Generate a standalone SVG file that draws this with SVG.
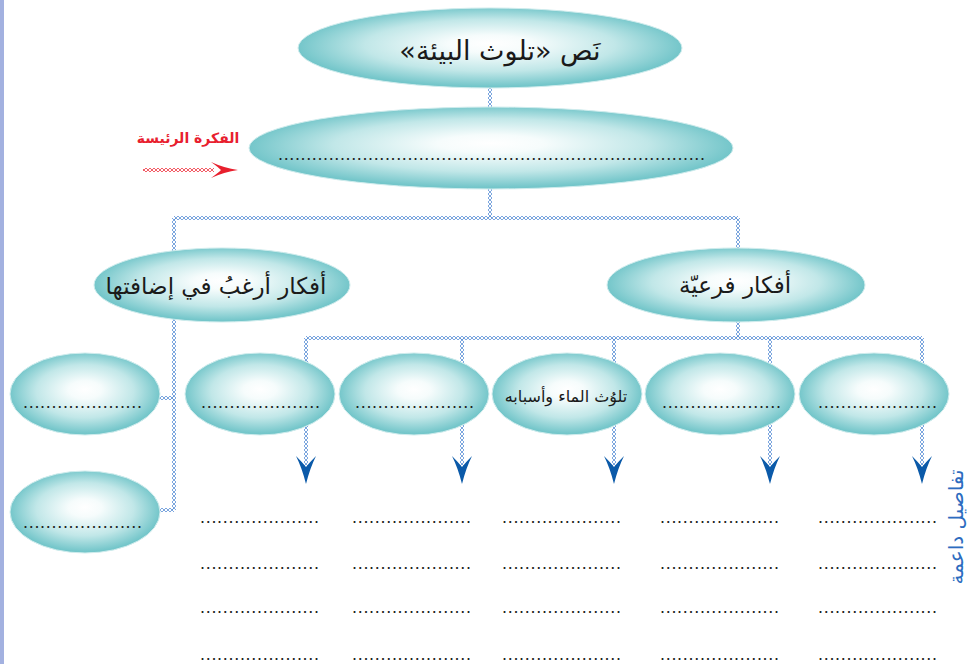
<svg xmlns="http://www.w3.org/2000/svg" width="973" height="664" viewBox="0 0 973 664">
<defs>
<radialGradient id="g" cx="50%" cy="48%" r="50%" fx="50%" fy="44%">
<stop offset="0" stop-color="#ffffff"/>
<stop offset="0.22" stop-color="#f6fcfc"/>
<stop offset="0.65" stop-color="#c1e7e8"/>
<stop offset="1" stop-color="#74c6ca"/>
</radialGradient>
<pattern id="chain" width="4" height="4" patternUnits="userSpaceOnUse">
<path d="M0 2 L2 0 L4 2 L2 4 Z" fill="none" stroke="#5b8fd6" stroke-width="0.8"/>
</pattern>
<pattern id="chainR" width="4" height="4" patternUnits="userSpaceOnUse">
<path d="M0 2 L2 0 L4 2 L2 4 Z" fill="none" stroke="#ef3340" stroke-width="0.8"/>
</pattern>
</defs>
<style>
.e{fill:url(#g);stroke:#cfeced;stroke-width:1;}
.c{fill:none;stroke:url(#chain);stroke-width:4;}
.ar{fill:#0b5aa9;}
.t{font-family:"DejaVu Sans",sans-serif;fill:#1a1a1a;text-anchor:middle;}
.d{font-family:"Liberation Sans",sans-serif;font-size:18px;fill:#222;}
</style>
<rect x="0" y="0" width="4" height="664" fill="#a3b1e0"/>

<g id="connectors">
<path class="c" d="M490 86 V110"/>
<path class="c" d="M490 186 V218"/>
<path class="c" d="M174 218 H738"/>
<path class="c" d="M174 218 V510"/>
<path class="c" d="M158 398 H174"/>
<path class="c" d="M158 510 H174"/>
<path class="c" d="M738 218 V338"/>
<path class="c" d="M306 338 H922"/>
<path class="c" d="M306 338 V466"/>
<path class="c" d="M462 338 V466"/>
<path class="c" d="M614 338 V466"/>
<path class="c" d="M770 338 V466"/>
<path class="c" d="M922 338 V466"/>
<path class="ar" d="M296 456 Q302 462 306 467 Q310 462 316 456 Q310 468 306 484 Q302 468 296 456 Z"/>
<path class="ar" d="M452 456 Q458 462 462 467 Q466 462 472 456 Q466 468 462 484 Q458 468 452 456 Z"/>
<path class="ar" d="M604 456 Q610 462 614 467 Q618 462 624 456 Q618 468 614 484 Q610 468 604 456 Z"/>
<path class="ar" d="M760 456 Q766 462 770 467 Q774 462 780 456 Q774 468 770 484 Q766 468 760 456 Z"/>
<path class="ar" d="M912 456 Q918 462 922 467 Q926 462 932 456 Q926 468 922 484 Q918 468 912 456 Z"/>
</g>

<g id="main-label">
<text class="t" x="188" y="143" font-size="14" font-weight="bold" style="fill:#e8202e" direction="rtl">الفكرة الرئيسة</text>
<path d="M143 170 H214" fill="none" stroke="url(#chainR)" stroke-width="4"/>
<path d="M211 162 Q218 167 221 170 Q218 173 211 178 Q224 172 238 170 Q224 168 211 162 Z" fill="#e8202e"/>
</g>

<g id="n-text">
<ellipse class="e" cx="490" cy="48" rx="192" ry="40"/>
<text class="t" x="500" y="60" font-size="27" direction="rtl">نَص «تلوث البيئة»</text>
</g>

<g id="n-main">
<ellipse class="e" cx="491" cy="148" rx="242" ry="41"/>
<text class="d" x="278" y="160" textLength="427" lengthAdjust="spacing">............................................................................</text>
</g>

<g id="n-add">
<ellipse class="e" cx="222" cy="285" rx="128" ry="37"/>
<text class="t" x="216" y="294" font-size="23" direction="rtl">أفكار أرغبُ في إضافتها</text>
</g>

<g id="n-sub">
<ellipse class="e" cx="736" cy="285" rx="129" ry="37"/>
<text class="t" x="735" y="293" font-size="23" direction="rtl">أفكار فرعيّة</text>
</g>

<g id="n-left1">
<ellipse class="e" cx="85" cy="394" rx="75" ry="41"/>
<text class="d" x="23" y="408" textLength="119" lengthAdjust="spacing">.....................</text>
</g>
<g id="n-left2">
<ellipse class="e" cx="85" cy="512" rx="75" ry="41"/>
<text class="d" x="23" y="528" textLength="119" lengthAdjust="spacing">.....................</text>
</g>

<g id="n-a">
<ellipse class="e" cx="260" cy="394" rx="75" ry="41"/>
<text class="d" x="201" y="408" textLength="119" lengthAdjust="spacing">.....................</text>
</g>
<g id="n-b">
<ellipse class="e" cx="414" cy="394" rx="75" ry="41"/>
<text class="d" x="355" y="408" textLength="119" lengthAdjust="spacing">.....................</text>
</g>
<g id="n-c">
<ellipse class="e" cx="567" cy="394" rx="75" ry="41"/>
<text class="t" x="566" y="402" font-size="16" direction="rtl">تلوُث الماء وأسبابه</text>
</g>
<g id="n-d">
<ellipse class="e" cx="720" cy="394" rx="75" ry="41"/>
<text class="d" x="662" y="408" textLength="119" lengthAdjust="spacing">.....................</text>
</g>
<g id="n-e">
<ellipse class="e" cx="874" cy="394" rx="75" ry="41"/>
<text class="d" x="818" y="408" textLength="119" lengthAdjust="spacing">.....................</text>
</g>

<g id="details">
<text class="d" x="200" y="523" textLength="119" lengthAdjust="spacing">.....................</text>
<text class="d" x="200" y="569" textLength="119" lengthAdjust="spacing">.....................</text>
<text class="d" x="200" y="613" textLength="119" lengthAdjust="spacing">.....................</text>
<text class="d" x="200" y="660" textLength="119" lengthAdjust="spacing">.....................</text>
<text class="d" x="352" y="523" textLength="119" lengthAdjust="spacing">.....................</text>
<text class="d" x="352" y="569" textLength="119" lengthAdjust="spacing">.....................</text>
<text class="d" x="352" y="613" textLength="119" lengthAdjust="spacing">.....................</text>
<text class="d" x="352" y="660" textLength="119" lengthAdjust="spacing">.....................</text>
<text class="d" x="502" y="523" textLength="119" lengthAdjust="spacing">.....................</text>
<text class="d" x="502" y="569" textLength="119" lengthAdjust="spacing">.....................</text>
<text class="d" x="502" y="613" textLength="119" lengthAdjust="spacing">.....................</text>
<text class="d" x="502" y="660" textLength="119" lengthAdjust="spacing">.....................</text>
<text class="d" x="660" y="523" textLength="119" lengthAdjust="spacing">.....................</text>
<text class="d" x="660" y="569" textLength="119" lengthAdjust="spacing">.....................</text>
<text class="d" x="660" y="613" textLength="119" lengthAdjust="spacing">.....................</text>
<text class="d" x="660" y="660" textLength="119" lengthAdjust="spacing">.....................</text>
<text class="d" x="818" y="523" textLength="119" lengthAdjust="spacing">.....................</text>
<text class="d" x="818" y="569" textLength="119" lengthAdjust="spacing">.....................</text>
<text class="d" x="818" y="613" textLength="119" lengthAdjust="spacing">.....................</text>
<text class="d" x="818" y="660" textLength="119" lengthAdjust="spacing">.....................</text>
<text class="t" transform="translate(957 527) rotate(-90)" x="0" y="6" font-size="20" style="fill:#2d6cc0" direction="rtl">تفاصيل داعمة</text>
</g>
</svg>
